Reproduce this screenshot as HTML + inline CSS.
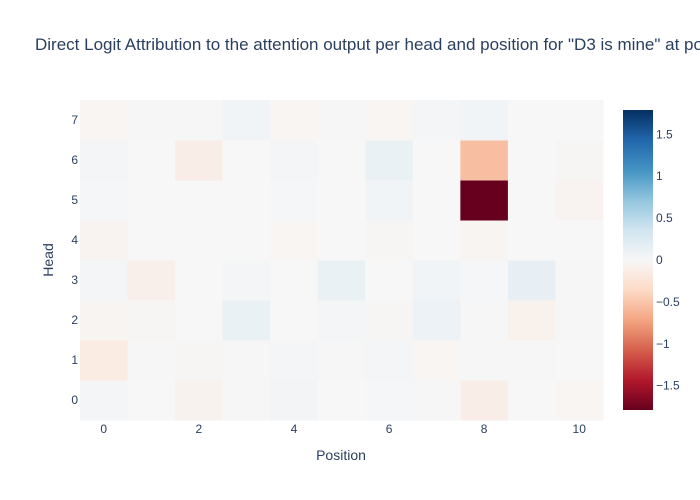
<!DOCTYPE html>
<html><head><meta charset="utf-8">
<style>
html,body{margin:0;padding:0;background:#fff;width:700px;height:500px;overflow:hidden;font-family:"Liberation Sans",Arial,sans-serif;}
text{font-family:"Liberation Sans",Arial,sans-serif;fill:#2a3f5f;}
</style></head>
<body>
<svg id="chart" width="700" height="500">
<defs>
<linearGradient id="cbgrad" x1="0" y1="1" x2="0" y2="0">
<stop offset="0" stop-color="rgb(103,0,31)"/>
<stop offset="0.1" stop-color="rgb(178,24,43)"/>
<stop offset="0.2" stop-color="rgb(214,96,77)"/>
<stop offset="0.3" stop-color="rgb(244,165,130)"/>
<stop offset="0.4" stop-color="rgb(253,219,199)"/>
<stop offset="0.5" stop-color="rgb(247,247,247)"/>
<stop offset="0.6" stop-color="rgb(209,229,240)"/>
<stop offset="0.7" stop-color="rgb(146,197,222)"/>
<stop offset="0.8" stop-color="rgb(67,147,195)"/>
<stop offset="0.9" stop-color="rgb(33,102,172)"/>
<stop offset="1" stop-color="rgb(5,48,97)"/>
</linearGradient>
</defs>
<text x="35" y="50" font-size="17">Direct Logit Attribution to the attention output per head and position for "D3 is mine" at position 8</text>
<g id="cells"></g>
<g id="axes"></g>
<rect x="623" y="110" width="30" height="300" fill="url(#cbgrad)"/>
<g id="cbticks"></g>
<text x="341" y="460" font-size="14" text-anchor="middle">Position</text>
<text x="0" y="0" font-size="14" text-anchor="middle" transform="translate(53,260) rotate(-90)">Head</text>
</svg>
<script>
const positions = [0,1,2,3,4,5,6,7,8,9,10];
const heads = [0,1,2,3,4,5,6,7];
const values = [
 [0.03,0,-0.07,-0.01,0.05,0,0.02,-0.01,-0.12,0,-0.03],
 [-0.15,-0.01,-0.02,0.01,0.03,0.01,0.03,-0.03,0.01,0.01,0],
 [-0.04,-0.02,0,0.12,0,0.03,-0.02,0.1,0.01,-0.08,0.01],
 [0.04,-0.1,0,0.04,0,0.12,0,0.06,0.02,0.15,-0.01],
 [-0.05,0,0,0,-0.03,0,-0.02,0,-0.04,0,0],
 [0.02,0,0,0,0.02,0,0.06,0,-1.79,0,-0.05],
 [0.03,0,-0.12,0,0.03,0,0.12,0,-0.55,0,-0.02],
 [-0.03,-0.01,0.01,0.06,-0.03,-0.01,-0.03,0.03,0.06,0,0]
];
const xTicks = [0,2,4,6,8,10];
const cbTicks = [1.5,1,0.5,0,-0.5,-1,-1.5];
const cbLabels = ["1.5","1","0.5","0","\u22120.5","\u22121","\u22121.5"];
const zmax = 1.79, zmin = -1.79;

const NS="http://www.w3.org/2000/svg";
const X0=80,X1=603,Y0=100,Y1=420;
const cw=(X1-X0)/positions.length, ch=(Y1-Y0)/heads.length;
const xCenter=p=>X0+(p-positions[0]+0.5)*cw;
const yCenter=h=>Y1-(h-heads[0]+0.5)*ch;
const stops=[[0,[103,0,31]],[0.1,[178,24,43]],[0.2,[214,96,77]],[0.3,[244,165,130]],[0.4,[253,219,199]],[0.5,[247,247,247]],[0.6,[209,229,240]],[0.7,[146,197,222]],[0.8,[67,147,195]],[0.9,[33,102,172]],[1,[5,48,97]]];
function color(v){
 let t=(v-zmin)/(zmax-zmin); t=Math.max(0,Math.min(1,t));
 for(let i=0;i<stops.length-1;i++){
  const [a,ca]=stops[i],[b,cb]=stops[i+1];
  if(t<=b){const f=(t-a)/(b-a);return `rgb(${ca.map((c,k)=>Math.round(c+(cb[k]-c)*f)).join(',')})`;}
 }
 return 'rgb(5,48,97)';
}
const cells=document.getElementById('cells');
heads.forEach((h,hi)=>{positions.forEach((p,pi)=>{
 const r=document.createElementNS(NS,'rect');
 r.setAttribute('x',xCenter(p)-cw/2);r.setAttribute('y',yCenter(h)-ch/2);
 r.setAttribute('width',cw+0.5);r.setAttribute('height',ch+0.5);
 r.setAttribute('fill',color(values[hi][pi]));
 
 
 cells.appendChild(r);
});});
const axes=document.getElementById('axes');
xTicks.forEach(p=>{
 const t=document.createElementNS(NS,'text');
 t.setAttribute('x',xCenter(p));t.setAttribute('y',433);t.setAttribute('font-size','12');t.setAttribute('text-anchor','middle');
 t.textContent=p;
 
 
 axes.appendChild(t);
});
heads.forEach(h=>{
 const t=document.createElementNS(NS,'text');
 t.setAttribute('x',78);t.setAttribute('y',yCenter(h)+4);t.setAttribute('font-size','12');t.setAttribute('text-anchor','end');
 t.textContent=h;
 
 
 axes.appendChild(t);
});
const cbg=document.getElementById('cbticks');
cbTicks.forEach((v,i)=>{
 const y=410-(v-zmin)/(zmax-zmin)*300;
 const t=document.createElementNS(NS,'text');
 t.setAttribute('x',656);t.setAttribute('y',y+4);t.setAttribute('font-size','12');
 t.textContent=cbLabels[i];
 
 
 cbg.appendChild(t);
});
</script>
</body></html>
